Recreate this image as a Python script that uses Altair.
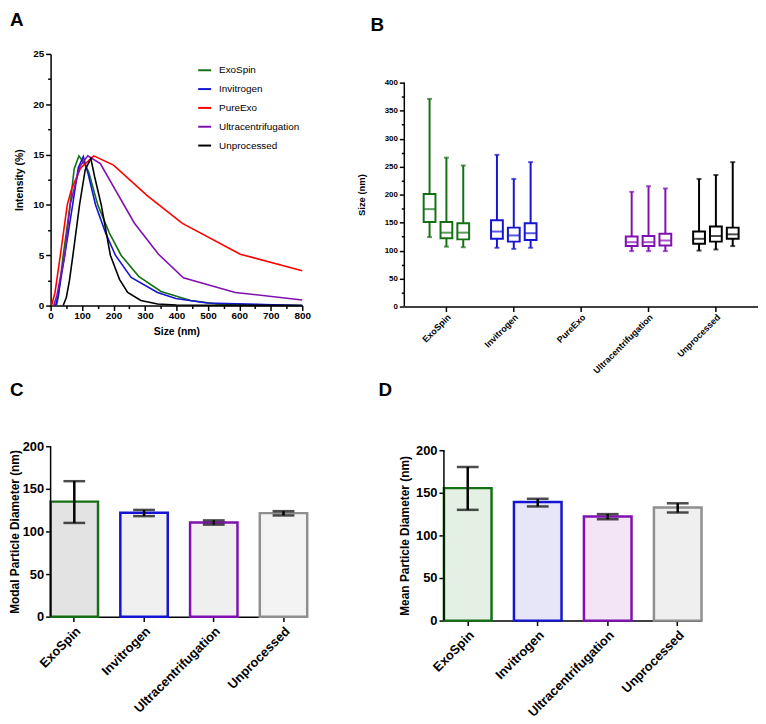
import altair as alt
import pandas as pd

FONT = "Liberation Sans"

# ---------------- shared categories / colours ----------------
methods = ["ExoSpin", "Invitrogen", "PureExo", "Ultracentrifugation", "Unprocessed"]
method_colors = ["#157015", "#1414d2", "#ff0000", "#8010b0", "#000000"]

# ---------------- Panel A: size distribution (intensity %) ----------------
exo_size = [19, 25, 40, 62, 75, 90, 105, 121, 150, 187, 224, 280, 351, 445, 530, 800]
exo_int = [0, 1.0, 5.0, 10.0, 13.6, 14.87, 14.2, 13.3, 10.0, 7.2, 5.0, 2.9, 1.4, 0.5, 0.16, 0.0]

inv_size = [16, 24, 45, 70, 88, 104, 120, 143, 175, 206, 256, 340, 398, 498, 800]
inv_int = [0, 1.0, 5.0, 10.0, 13.7, 14.8, 13.0, 10.0, 7.2, 5.0, 2.8, 1.3, 0.7, 0.26, 0.0]

pure_size = [3, 14, 31, 53, 66, 95, 137, 200, 308, 419, 603, 800]
pure_int = [0, 1.3, 5.0, 10.0, 11.5, 13.65, 14.87, 13.95, 10.9, 8.16, 5.1, 3.45]

ultra_size = [10, 20, 45, 62, 93, 118, 158, 266, 343, 422, 587, 800]
ultra_int = [0, 1.0, 5.0, 10.0, 13.8, 14.87, 14.1, 8.2, 5.1, 2.76, 1.3, 0.56]

unp_size = [40, 50, 60, 71, 92, 110, 128, 140, 161, 190, 219, 245, 287, 340, 400, 800]
unp_int = [0, 0.8, 2.5, 5.0, 10.0, 13.5, 14.6, 12.8, 10.0, 5.0, 2.6, 1.3, 0.5, 0.16, 0.05, 0.0]

series_a = [
    ("ExoSpin", exo_size, exo_int),
    ("Invitrogen", inv_size, inv_int),
    ("PureExo", pure_size, pure_int),
    ("Ultracentrifugation", ultra_size, ultra_int),
    ("Unprocessed", unp_size, unp_int),
]
rows_a = []
for name, xs, ys in series_a:
    for xv, yv in zip(xs, ys):
        rows_a.append({"method": name, "size": xv, "intensity": yv})
df_a = pd.DataFrame(rows_a)

# ---------------- Panel B: box plots (3 replicates per method) ----------------
box_method = ["ExoSpin"] * 3 + ["Invitrogen"] * 3 + ["Ultracentrifugation"] * 3 + ["Unprocessed"] * 3
box_rep = [1, 2, 3] * 4
box_min = [124, 107, 106, 105, 103, 105, 99, 99, 99, 100, 102, 108]
box_q1 = [151, 122, 120, 121, 116, 119, 108, 108, 109, 112, 116, 121]
box_med = [174, 132, 132, 134, 127, 131, 115, 115, 118, 121, 126, 129]
box_q3 = [201, 151, 149, 154, 141, 149, 125, 126, 130, 134, 143, 141]
box_max = [371, 266, 252, 271, 228, 258, 205, 215, 211, 228, 235, 258]
df_b = pd.DataFrame({
    "method": box_method, "rep": box_rep, "lo": box_min, "q1": box_q1,
    "med": box_med, "q3": box_q3, "hi": box_max,
})
b_axis_top = 400

# ---------------- Panels C & D: bar charts with error bars ----------------
bar_methods = ["ExoSpin", "Invitrogen", "Ultracentrifugation", "Unprocessed"]
bar_strokes = ["#157015", "#1414d2", "#8010b0", "#8f8f8f"]

modal_val = [135, 122, 110.6, 121.5]
modal_lo = [110, 118, 108, 118.8]
modal_hi = [159, 125.3, 113, 123.8]
modal_fills = ["#e3e3e3", "#f0f0f0", "#efefef", "#f3f3f3"]

mean_val = [155.5, 139.3, 122.2, 132.7]
mean_lo = [130, 134, 119, 126.9]
mean_hi = [180.3, 143, 125, 137.7]
mean_fills = ["#e4f0e4", "#e6e6f8", "#f3e4f6", "#efefef"]
cd_axis_top = 200

df_c = pd.DataFrame({"method": bar_methods, "val": modal_val, "lo": modal_lo, "hi": modal_hi})
df_d = pd.DataFrame({"method": bar_methods, "val": mean_val, "lo": mean_lo, "hi": mean_hi})


def panel_title(letter, dx, offset):
    return alt.TitleParams(letter, anchor="start", frame="group", dx=dx, offset=offset,
                           fontSize=19, fontWeight="bold", font=FONT, color="black")


def minor_ticks(major, minor_len=3, major_len=5):
    return {"condition": {"test": f"datum.value % {major} != 0", "value": minor_len}, "value": major_len}


def axis_line(top, scale, axis):
    # explicit y-axis line from 0 to the last labelled tick
    return alt.Chart(pd.DataFrame({"lo": [0], "hi": [top]})).mark_rule(
        color="black", strokeWidth=1.5).encode(
        x=alt.value(0), y=alt.Y("lo:Q", scale=scale, axis=axis), y2="hi:Q")


# ---------------- build Panel A ----------------
A_W, A_H = 254, 254
chart_a = alt.Chart(df_a).mark_line(strokeWidth=1.6).encode(
    x=alt.X("size:Q", scale=alt.Scale(domain=[0, 800], nice=False, zero=False),
            axis=alt.Axis(values=list(range(0, 801, 50)),
                          labelExpr="datum.value % 100 == 0 ? datum.label : ''",
                          tickSize=minor_ticks(100), labelFlush=False, labelFontSize=10,
                          labelOverlap=False, labelPadding=0, title="Size  (nm)",
                          titleFontSize=10.5, titleY=21, titleBaseline="top")),
    y=alt.Y("intensity:Q", scale=alt.Scale(domain=[0, 25], nice=False),
            axis=alt.Axis(values=[v * 2.5 for v in range(11)],
                          labelExpr="datum.value % 5 == 0 ? datum.label : ''",
                          tickSize=minor_ticks(5), labelFontSize=10, labelPadding=2,
                          labelOverlap=False, title="Intensity (%)", titleFontSize=10.5,
                          titleX=-31, titleY=A_H / 2, titleBaseline="middle", titleAlign="center")),
    color=alt.Color("method:N", scale=alt.Scale(domain=methods, range=method_colors),
                    sort=methods,
                    legend=alt.Legend(title=None, orient="none", legendX=148, legendY=9,
                                      symbolType="stroke", symbolSize=169, symbolStrokeWidth=2,
                                      labelFontSize=10, labelFontWeight="normal", labelFont=FONT,
                                      rowPadding=6, labelOffset=7, padding=0)),
).properties(width=A_W, height=A_H, title=panel_title("A", -41, 19))

# ---------------- build Panel B ----------------
B_W, B_H = 357, 255
B_VIS = 226  # pixel height of the 0-400 axis
y_scale_b = alt.Scale(domain=[0, b_axis_top * B_H / B_VIS], nice=False)
x_b = alt.X("method:N", scale=alt.Scale(domain=methods, paddingInner=0, paddingOuter=0.125),
            axis=alt.Axis(title=None, labelAngle=-45, labelAlign="right", labelBaseline="top",
                          labelFontSize=9, tickSize=5, labelPadding=1))
xo_b = alt.XOffset("rep:N", scale=alt.Scale(domain=[1, 2, 3], paddingInner=0.3, paddingOuter=0.65))
y_axis_b = alt.Axis(values=list(range(0, b_axis_top + 1, 25)),
                    labelExpr="datum.value % 50 == 0 ? datum.label : ''",
                    tickSize=minor_ticks(50), labelFontSize=8, labelPadding=2,
                    labelOverlap=False, domain=False,
                    title="Size (nm)", titleFontSize=9.5,
                    titleX=-43, titleY=B_H - B_VIS / 2, titleBaseline="middle", titleAlign="center")


def yb(field):
    return alt.Y(field, type="quantitative", scale=y_scale_b, axis=y_axis_b)


col_b = alt.Color("method:N", scale=alt.Scale(domain=methods, range=method_colors), legend=None)
stroke_b = alt.Stroke("method:N", scale=alt.Scale(domain=methods, range=method_colors), legend=None)

base_b = alt.Chart(df_b).encode(x=x_b, xOffset=xo_b)
whisk = base_b.mark_rule(strokeWidth=2).encode(y=yb("lo"), y2="hi:Q", color=col_b)
cap_lo = base_b.mark_tick(size=5, thickness=2).encode(y=yb("lo"), color=col_b)
cap_hi = base_b.mark_tick(size=5, thickness=2).encode(y=yb("hi"), color=col_b)
box = base_b.mark_bar(fill="white", strokeWidth=2).encode(y=yb("q1"), y2="q3:Q", stroke=stroke_b)
med = base_b.mark_tick(size=12, thickness=2).encode(y=yb("med"), color=col_b)
chart_b = alt.layer(whisk, cap_lo, cap_hi, box, med, axis_line(b_axis_top, y_scale_b, y_axis_b)).properties(
    width=B_W, height=B_H, title=panel_title("B", -34, 19))


# ---------------- build Panels C & D ----------------
def bar_panel(df, fills, ytitle, letter, dx, offset, width, title_x, extra):
    vis = 172
    H = vis + extra
    yscale = alt.Scale(domain=[0, cd_axis_top * H / vis], nice=False)
    yaxis = alt.Axis(values=[0, 50, 100, 150, 200], tickSize=5, labelFontSize=13,
                     labelPadding=2, domain=False, title=ytitle, titleFontSize=12,
                     titleX=title_x, titleY=H - vis / 2, titleBaseline="middle",
                     titleAlign="center", labelOverlap=False)

    def yq(field):
        return alt.Y(field, type="quantitative", scale=yscale, axis=yaxis)

    base = alt.Chart(df).encode(
        x=alt.X("method:N", sort=bar_methods,
                scale=alt.Scale(domain=bar_methods, paddingInner=0.32, paddingOuter=0),
                axis=alt.Axis(title=None, labelAngle=-45, labelAlign="right", labelBaseline="top",
                              labelFontSize=13, tickSize=5, labelPadding=3)))
    bars = base.mark_bar(strokeWidth=2.5).encode(
        y=yq("val"),
        stroke=alt.Stroke("method:N", scale=alt.Scale(domain=bar_methods, range=bar_strokes), legend=None),
        fill=alt.Fill("method:N", scale=alt.Scale(domain=bar_methods, range=fills), legend=None),
    )
    err = base.mark_rule(strokeWidth=2.5, color="black").encode(y=yq("lo"), y2="hi:Q")
    c_lo = base.mark_tick(size=22, thickness=2.5, color="black").encode(y=yq("lo"))
    c_hi = base.mark_tick(size=22, thickness=2.5, color="black").encode(y=yq("hi"))
    return alt.layer(bars, err, c_lo, c_hi, axis_line(cd_axis_top, yscale, yaxis)).resolve_scale(
        fill="independent", stroke="independent").properties(
        width=width, height=H, title=panel_title(letter, dx, offset))


chart_c = bar_panel(df_c, modal_fills, "Modal  Particle Diameter  (nm)", "C", -41, 41, 259, -36, 0)
chart_d = bar_panel(df_d, mean_fills, "Mean  Particle Diameter  (nm)", "D", -66, 45, 260, -40, 4)

row1 = alt.hconcat(chart_a, chart_b, spacing=46).resolve_scale(color="independent", stroke="independent")
row2 = alt.hconcat(chart_c, chart_d, spacing=70).resolve_scale(fill="independent", stroke="independent")

chart = alt.vconcat(row1, row2, spacing=5).resolve_scale(
    color="independent", stroke="independent", fill="independent"
).properties(
    padding={"left": 0, "top": 0, "right": 0, "bottom": 0}, background="white"
).configure_view(stroke=None).configure_axis(
    grid=False, domainColor="black", domainWidth=1.5, tickColor="black", tickWidth=1.5,
    labelColor="black", labelFont=FONT, labelFontWeight="bold",
    titleFont=FONT, titleFontWeight="bold", titleColor="black",
).configure_legend(labelColor="black")

chart.save("out.html", embed_options={"renderer": "svg", "actions": False})
